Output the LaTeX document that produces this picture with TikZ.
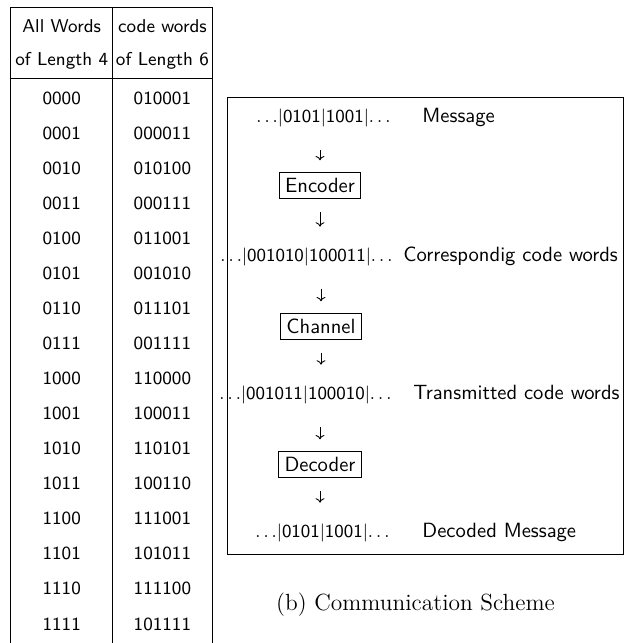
\documentclass[tikz,border=0pt]{standalone}
\usepackage{amsmath,amssymb}
\usepackage{tikz}
\usetikzlibrary{arrows.meta,calc,positioning}

\begin{document}
\begin{tikzpicture}[x=0.5pt,y=-0.5pt,line width=0.45pt,
  cell/.style={anchor=base,inner sep=0pt,font=\sffamily\fontsize{9.3}{11}\selectfont},
  seq/.style={anchor=base east,inner sep=0pt,font=\sffamily\fontsize{9.2}{11}\selectfont},
  lbl/.style={anchor=base west,inner sep=0pt,font=\sffamily\fontsize{10.3}{12}\selectfont},
  unit/.style={draw,inner xsep=3pt,inner ysep=0pt,minimum height=13pt,font=\sffamily\fontsize{10.3}{12}\selectfont},
  intobox/.style={-{To[length=2.2pt,width=4.4pt]},shorten <=11.4pt,shorten >=5.6pt},
  outofbox/.style={-{To[length=2.2pt,width=4.4pt]},shorten <=7pt,shorten >=10.2pt}]
\useasboundingbox (0,0) rectangle (624,643);
% table of words
\draw (10.7,643) |- (212,7.5) -- (212,643);
\draw (112.7,7.5) -- (112.7,643);
\draw (10.7,78) -- (212,78);
\node[cell] (ha) at (61.7,32) {All Words};
\node[cell] (hb) at (61.7,65) {of Length 4};
\node[cell] (hc) at (162.4,32) {code words};
\node[cell] (hd) at (162.4,65) {of Length 6};
\foreach \w/\c [count=\i from 0] in {0000/010001,0001/000011,0010/010100,0011/000111,0100/011001,0101/001010,0110/011101,0111/001111,1000/110000,1001/100011,1010/110101,1011/100110,1100/111001,1101/101011,1110/111100,1111/101111} {
  \node[cell] (w\i) at (61.7,{104+35.07*\i}) {\w};
  \node[cell] (c\i) at (162.4,{104+35.07*\i}) {\c};
}
% communication scheme
\draw (227,97) rectangle (623,554);
\node[seq] (msg) at (391,122) {${\ldots}|$0101$|$1001$|{\ldots}$};
\node[lbl] (lmsg) at (422,122) {Message};
\node[unit] (enc) at (320,185) {Encoder};
\node[seq] (cw) at (393,261) {${\ldots}|$001010$|$100011$|{\ldots}$};
\node[lbl] (lcw) at (403,261) {Correspondig code words};
\node[unit] (chan) at (321,326) {Channel};
\node[seq] (tw) at (392,399) {${\ldots}|$001011$|$100010$|{\ldots}$};
\node[lbl] (ltw) at (413,399) {Transmitted code words};
\node[unit] (dec) at (320,464) {Decoder};
\node[seq] (out) at (390,537) {${\ldots}|$0101$|$1001$|{\ldots}$};
\node[lbl] (lout) at (422,537) {Decoded Message};
\foreach \x/\y in {msg/enc,cw/chan,tw/dec} \draw[intobox] (\y |- \x.south) -- (\y.north);
\foreach \x/\y in {enc/cw,chan/tw,dec/out} \draw[outofbox] (\x.south) -- (\x |- \y.north);
\node[anchor=base,inner sep=0pt,font=\rmfamily\fontsize{11.7}{14}\selectfont] (cap) at (415.5,610) {(b) Communication Scheme};
\end{tikzpicture}
\end{document}
